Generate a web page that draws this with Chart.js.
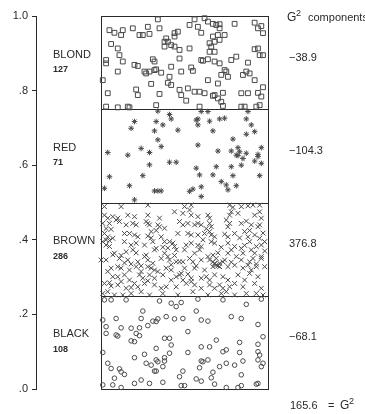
<!DOCTYPE html>
<html>
<head>
<meta charset="utf-8">
<script src="https://cdn.jsdelivr.net/npm/chart.js@4"></script>
<style>
  html, body { margin: 0; padding: 0; background: #fff; }
  #wrap { width: 365px; height: 414px; position: relative; }
</style>
</head>
<body>
<div id="wrap"><canvas id="chart"></canvas></div>
<script>
// hair colour categories, counts, G^2 components
const categories = ['BLOND', 'RED', 'BROWN', 'BLACK'];
const counts = [127, 71, 286, 108];
const g2Parts = ['\u221238.9', '\u2212104.3', '376.8', '\u221268.1'];
const g2Total = '165.6';
// band limits on the 0..100 vertical scale (top band first)
const bandLow = [75, 50, 25, 0];
const bandHigh = [100, 75, 50, 25];
const yTickValues = [0, 20, 40, 60, 80, 100];
const yTickLabels = ['.0', '.2', '.4', '.6', '.8', '1.0'];

// points: [x (0-100 across box), y (0-100)]
const blondPts = [[5,96.2],[8,95.5],[12,94.9],[13,96.2],[19,96.7],[23,94.9],[25,94.9],[28,97.1],[29,95.2],[35,96.7],[34,99.1],[39,94.0],[38,93.1],[38,91.8],[44,95.4],[44,94.5],[46,95.8],[53,97.6],[56,99.1],[58,97.1],[60,95.5],[62,99.4],[64,98.5],[67,97.9],[69,97.6],[71,96.7],[71,97.8],[67,94.5],[68,93.1],[71,93.6],[70,94.9],[74,94.9],[80,97.9],[92,98.2],[94,96.7],[96,97.3],[97,95.4],
  [6,92.5],[10,91.3],[11,89.5],[3,88.2],[3,87.3],[13,87.8],[20,86.9],[22,86.6],[31,88.4],[32,87.8],[26,85.1],[27,84.6],[29,85.1],[32,85.5],[33,85.7],[36,84.8],[41,83.7],[42,86.4],[47,90.9],[47,88.6],[53,91.3],[48,85.1],[54,86.2],[55,85.3],[60,88.2],[61,88.0],[64,88.4],[65,92.7],[66,91.8],[65,90.4],[68,90.4],[68,87.8],[71,87.3],[74,85.5],[75,85.1],[78,88.2],[81,89.1],[88,87.5],[92,91.1],[94,91.3],[95,89.5],[97,89.5],[87,85.1],[85,84.2],[89,84.6],[92,82.8],[76,83.7],[72,84.2],[70,81.9],[64,82.8],
  [1,82.8],[10,85.1],[21,80.3],[30,81.8],[40,82.1],[42,81.5],[47,80.2],[48,78.8],[52,80.6],[56,79.7],[59,79.7],[62,79.3],[67,78.6],[68,78.8],[70,77.9],[73,79.4],[72,77.0],
  [4,79.3],[22,78.8],[35,79.1],[51,77.3],[84,79.3],[88,79.3],[94,79.4],[97,80.9],[96,78.4],[95,76.1],[93,75.7],[84,75.7],[86,75.7],[73,75.9],[59,75.7],[33,76.1],[16,75.7],[17,75.5],[10,75.5],[3,75.7],[44,91.8],[42,92.2],[40,93.1]];

const redPts = [[34,74.5],[41,73.6],[42,72.4],[60,74.4],[64,74.4],[88,74.4],[20,71.7],[33,71.7],[37,70.8],[18,69.9],[32,69.2],[46,69.4],[57,72.1],[58,72.4],[58,70.8],[65,71.8],[71,72.4],[74,72.6],[87,72.4],[90,70.8],[92,69.0],[87,68.3],[67,69.2],[34,66.8],[36,65.0],[24,64.5],[29,63.4],[4,63.4],[16,62.7],[58,65.4],[79,67.0],[82,64.7],[78,63.8],[83,63.6],[87,63.2],[70,63.8],[94,62.9],[94,62.3],[96,64.7],[41,60.8],[45,60.8],[29,60.1],[57,59.2],[69,59.6],[78,59.6],[85,61.8],[81,62.7],[82,62.6],[92,61.1],[96,60.5],[5,56.9],[25,57.2],[59,57.4],[67,57.4],[79,57.2],[95,57.2],[72,55.6],[75,54.7],[76,53.4],[81,54.5],[17,54.5],[2,53.8],[32,53.1],[34,53.1],[36,53.1],[55,53.6],[60,54.2],[60,51.6],[20,50.7],[53,53.0],[84,60.0]];

const brownPts = [[2,48.9],[12,48.9],[28,49.3],[50,48.9],[54,49.3],[77,49.3],[79,48.7],[84,48.9],[88,49.1],[91,49.3],[95,49.3],
  [2,46.6],[4,45.8],[7,46.2],[10,45.8],[16,46.6],[20,46.2],[28,46.6],[35,45.8],[44,47.5],[49,47.1],[53,48.0],[54,46.6],[58,46.2],[64,46.6],[65,45.8],[77,46.6],[78,47.5],[82,47.1],[92,46.6],[95,47.5],[96,45.8],
  [1,44.4],[5,44.4],[9,45.3],[11,44.9],[15,44.0],[19,44.4],[21,44.0],[27,44.9],[28,44.4],[29,44.0],[34,44.0],[38,43.1],[47,44.9],[49,44.0],[52,44.4],[56,44.0],[58,44.4],[60,44.0],[65,44.4],[75,45.3],[76,43.5],[77,44.4],[84,44.4],[90,44.0],[95,44.0],
  [2,41.7],[4,40.8],[7,40.4],[14,41.7],[17,41.7],[20,41.3],[22,40.8],[30,42.2],[36,40.8],[46,41.7],[52,41.7],[54,41.3],[58,41.3],[62,41.7],[65,42.2],[66,41.3],[68,40.8],[76,40.8],[80,41.7],[86,42.2],[88,40.8],[92,41.3],[95,40.4],
  [1,39.5],[3,38.6],[5,38.2],[14,39.5],[18,38.6],[21,39.1],[26,38.6],[31,39.5],[33,37.7],[38,39.5],[41,39.5],[43,39.1],[44,38.2],[51,38.6],[54,39.1],[60,38.2],[66,39.5],[68,39.1],[76,39.1],[80,38.2],[84,37.7],[89,39.5],[93,38.2],[96,38.6],[98,39.5],
  [8,36.4],[15,36.8],[19,37.3],[21,36.5],[27,35.9],[32,37.3],[38,36.4],[40,35.5],[45,37.3],[50,37.3],[56,36.4],[59,37.3],[64,35.5],[67,35.9],[69,35.0],[76,36.4],[78,37.3],[85,36.4],[90,37.3],[92,36.4],[96,35.5],
  [0,34.6],[3,34.6],[11,35.0],[16,34.6],[22,34.1],[28,34.6],[31,33.7],[36,35.0],[41,34.6],[45,34.1],[47,34.1],[49,34.1],[53,35.0],[55,34.1],[60,34.6],[67,34.1],[68,33.7],[71,33.7],[74,34.6],[84,34.6],[89,34.1],[96,35.0],[73,34.1],[65,34.6],
  [6,32.4],[10,32.8],[12,32.4],[17,31.9],[21,32.8],[24,31.5],[28,32.8],[30,32.4],[32,31.9],[34,31.5],[39,32.4],[42,31.9],[50,32.4],[56,32.4],[62,31.9],[67,32.8],[69,33.2],[71,32.8],[76,32.8],[80,33.2],[85,32.4],[88,33.2],[90,31.9],[93,32.8],[98,32.8],
  [4,31.5],[7,30.1],[10,30.1],[14,30.6],[17,29.2],[23,30.6],[25,29.7],[29,30.6],[32,29.7],[37,30.6],[42,29.2],[45,30.1],[47,30.6],[49,29.2],[54,29.7],[60,29.7],[63,30.1],[65,29.2],[68,30.6],[73,30.1],[76,29.2],[82,30.6],[86,29.2],[89,31.0],[94,30.1],
  [2,28.3],[5,28.5],[6,27.6],[10,27.9],[15,27.0],[20,28.3],[22,27.4],[26,28.3],[32,27.9],[36,27.0],[39,27.4],[45,27.4],[51,28.3],[54,28.8],[56,27.9],[60,27.0],[65,27.9],[68,27.0],[71,27.9],[73,27.0],[77,27.4],[80,28.3],[85,27.4],[92,28.3],[96,27.0],
  [1,25.6],[4,26.1],[8,25.2],[13,25.2],[18,25.6],[24,26.1],[29,25.2],[37,25.6],[46,25.2],[55,26.1],[64,25.2],[72,25.6],[75,26.1],[80,25.2],[87,25.6],[93,25.6],[97,25.2],
  [3,43.0],[6,42.8],[3,40.0],[5,39.8],[7,36.0],[12,35.8],[14,33.8],[18,33.5],[24,33.0],[26,35.5],[28,41.0],[30,40.5],[33,42.5],[35,43.5],[37,38.0],[40,37.8],[42,33.3],[44,35.8],[48,31.0],[52,30.8],[57,33.0],[58,38.5],[61,40.0],[63,43.0],[66,43.5],[68,33.5],[70,33.0],[70,36.5],[72,38.0],[74,41.5],[78,34.0],[81,35.5],[83,40.5],[86,38.5],[87,45.0],[89,42.5],[91,35.0],[93,33.5],[94,43.5],[97,41.8],[98,37.0],[12,28.8],[18,27.2],[28,29.0]];

const blackPts = [[2,23.9],[6,23.9],[15,23.9],[35,23.6],[42,23.0],[45,22.1],[48,23.2],[58,24.1],[73,23.9],[87,22.7],[96,24.1],
  [1,18.5],[9,18.9],[3,16.7],[12,16.4],[18,16.3],[23,16.4],[24,18.9],[25,20.9],[28,17.0],[31,18.2],[34,18.8],[33,18.1],[39,19.4],[44,18.8],[49,18.9],[57,20.9],[60,18.5],[64,18.2],[78,19.4],[84,18.9],[94,17.3],
  [3,14.9],[9,14.5],[10,14.2],[18,12.9],[20,12.7],[21,14.9],[23,14.3],[38,13.6],[41,13.6],[42,11.8],[33,10.9],[38,8.4],[41,9.6],[52,9.8],[60,11.3],[65,11.3],[69,13.1],[73,10.0],[75,10.5],[83,12.5],[83,9.8],[94,12.0],[94,10.0],[95,9.1],[97,14.0],
  [1,9.8],[20,8.4],[26,9.3],[4,6.9],[6,5.5],[11,5.4],[12,4.6],[14,3.9],[24,2.4],[27,6.9],[30,6.4],[33,7.8],[34,7.3],[38,7.5],[32,4.8],[33,4.8],[37,6.0],[49,4.8],[60,7.5],[61,7.3],[64,7.8],[59,5.7],[67,4.5],[71,6.0],[75,6.9],[80,6.4],[85,7.5],[94,7.8],[96,6.0],[97,6.9],
  [1,1.1],[7,1.1],[12,0.4],[29,1.5],[37,1.8],[47,3.3],[48,0.9],[50,0.9],[57,2.7],[60,2.1],[66,3.0],[68,1.3],[75,0.4],[84,0.9],[93,1.3],[94,1.5],[82,0.4],
  [8,2.9],[84,3.8],[52,15.4],[20,1.5]];

const ink = '#2a2a2a';
const markInk = '#4a4a4a';
const FONT = '"Liberation Sans", Arial, Helvetica, sans-serif';

function toXY(pts) { return pts.map(p => ({ x: p[0], y: p[1] })); }

const boxPlugin = {
  id: 'box',
  beforeDatasetsDraw(chart) {
    const { ctx, scales: { x, y } } = chart;
    const l = x.getPixelForValue(0), r = x.getPixelForValue(100);
    ctx.save();
    ctx.strokeStyle = ink;
    ctx.lineWidth = 1;
    ctx.strokeRect(Math.round(l) + 0.5, Math.round(y.getPixelForValue(100)) + 0.5,
      Math.round(r - l), Math.round(y.getPixelForValue(0) - y.getPixelForValue(100)));
    bandLow.forEach(v => {
      if (v === 0) return;
      const py = Math.round(y.getPixelForValue(v)) + 0.5;
      ctx.beginPath();
      ctx.moveTo(l, py);
      ctx.lineTo(r, py);
      ctx.stroke();
    });
    ctx.restore();
  },
  afterDraw(chart) {
    const { ctx, chartArea, scales: { y } } = chart;
    ctx.save();
    ctx.fillStyle = ink;
    ctx.textBaseline = 'middle';
    categories.forEach((c, i) => {
      const mid = y.getPixelForValue((bandLow[i] + bandHigh[i]) / 2);
      ctx.textAlign = 'left';
      ctx.font = '11px ' + FONT;
      ctx.fillText(c, chartArea.left + 17, mid - 8);
      ctx.font = 'bold 9px ' + FONT;
      ctx.fillText(String(counts[i]), chartArea.left + 17, mid + 7);
      ctx.font = '11px ' + FONT;
      ctx.fillText(g2Parts[i], chartArea.right + 21, mid - 5);
    });
    // header
    ctx.font = '12px ' + FONT;
    ctx.fillText('G', chartArea.right + 19, chartArea.top + 2);
    ctx.font = '9px ' + FONT;
    ctx.fillText('2', chartArea.right + 28, chartArea.top - 2);
    ctx.font = '11px ' + FONT;
    ctx.fillText('components', chartArea.right + 40, chartArea.top + 2);
    // total
    const by = chartArea.bottom + 17;
    ctx.fillText(g2Total, chartArea.right + 22, by);
    ctx.fillText('=', chartArea.right + 60, by);
    ctx.font = '12px ' + FONT;
    ctx.fillText('G', chartArea.right + 72, by);
    ctx.font = '9px ' + FONT;
    ctx.fillText('2', chartArea.right + 81, by - 4);
    ctx.restore();
  }
};

function pointSet(pts, style, radius) {
  return {
    data: toXY(pts),
    pointStyle: style,
    pointRadius: radius,
    pointHoverRadius: radius,
    borderColor: markInk,
    backgroundColor: 'rgba(0,0,0,0)',
    pointBorderWidth: 1,
    clip: false
  };
}

new Chart(document.getElementById('chart'), {
  type: 'scatter',
  data: {
    datasets: [
      pointSet(blondPts, 'rect', 3.4),
      pointSet(redPts, 'star', 2.8),
      pointSet(brownPts, 'crossRot', 3.4),
      pointSet(blackPts, 'circle', 2.3)
    ]
  },
  options: {
    responsive: true,
    maintainAspectRatio: false,
    animation: false,
    events: [],
    layout: { padding: { left: 0, right: 97, top: 16, bottom: 25 } },
    plugins: { legend: { display: false }, tooltip: { enabled: false } },
    scales: {
      x: { type: 'linear', min: -39, max: 100, display: false },
      y: {
        type: 'linear', min: 0, max: 100,
        afterFit(scale) { scale.width = 36; },
        afterBuildTicks(scale) { scale.ticks = yTickValues.map(v => ({ value: v })); },
        grid: { drawOnChartArea: false, drawTicks: true, tickLength: 4, color: ink, tickColor: ink },
        border: { display: true, color: ink, width: 1 },
        ticks: {
          padding: 4,
          color: ink,
          font: { family: FONT, size: 11 },
          callback: (v) => yTickLabels[yTickValues.indexOf(v)]
        }
      }
    }
  },
  plugins: [boxPlugin]
});
</script>
</body>
</html>
